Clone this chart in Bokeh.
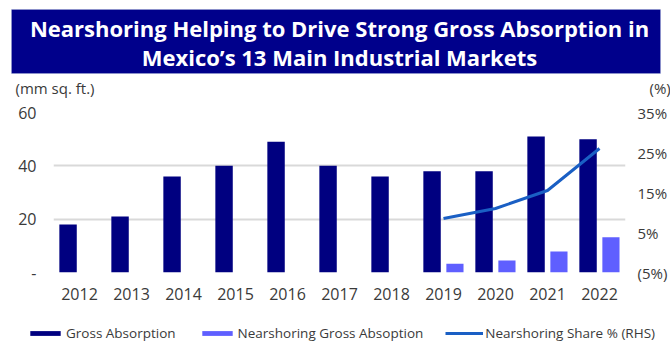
import numpy as np
from bokeh.plotting import figure
from bokeh.layouts import column
from bokeh.models import (ColumnDataSource, FactorRange, Range1d, LinearAxis, FixedTicker,
                          Legend, LegendItem, Label, BoxAnnotation)
from bokeh.transform import dodge
from bokeh.embed import file_html
from bokeh.resources import INLINE

# ---- data ----
years = ["2012", "2013", "2014", "2015", "2016", "2017", "2018", "2019", "2020", "2021", "2022"]
gross_absorption = [18, 21, 36, 40, 49, 40, 36, 38, 38, 51, 50]
nearshoring_gross = [None, None, None, None, None, None, None, 3.3, 4.5, 7.9, 13.2]
nearshoring_share = [None, None, None, None, None, None, None, 8.5, 11.0, 15.5, 26.0]
left_ticks = [0, 20, 40, 60]
left_tick_labels = {0: "-", 20: "20", 40: "40", 60: "60"}
right_ticks = [-5, 5, 15, 25, 35]
right_tick_labels = {-5: "(5%)", 5: "5%", 15: "15%", 25: "25%", 35: "35%"}
title_lines = ["Nearshoring Helping to Drive Strong Gross Absorption in",
               "Mexico\u2019s 13 Main Industrial Markets"]
series_names = ["Gross Absorption", "Nearshoring Gross Absoption", "Nearshoring Share % (RHS)"]

def arr(v):
    return np.array([np.nan if x is None else x for x in v], dtype=float)

src = ColumnDataSource(data=dict(
    year=years,
    gross=arr(gross_absorption),
    near=arr(nearshoring_gross),
    share=arr(nearshoring_share),
))

FONT = "Open Sans"
TXT = "#3a3a3a"
NAVY = "#000080"
LIGHT = "#5f5fff"
LINE = "#1a5fc4"
HEAD_H = 100

# ---- header figure (banner + unit labels) ----
top = figure(width=670, height=HEAD_H, x_range=Range1d(0, 670), y_range=Range1d(HEAD_H, 0),
             x_axis_type=None, y_axis_type=None, output_backend="svg", toolbar_location=None,
             min_border=0, frame_align=False)
top.title = None
top.outline_line_color = None
top.grid.visible = False
top.add_layout(BoxAnnotation(left=11, right=660, top=9, bottom=73,
                             fill_color="#00008b", fill_alpha=1,
                             line_color="#aab8d8", line_width=1))
for yy, t in zip([27, 56], title_lines):
    top.add_layout(Label(x=339, y=yy, text=t, text_align="center",
                         text_baseline="middle", text_font="Open Sans",
                         text_font_style="bold", text_font_size="22px", text_color="white"))
top.add_layout(Label(x=15, y=87, text="(mm sq. ft.)", text_align="left",
                     text_baseline="middle", text_font=FONT,
                     text_font_size="15px", text_color=TXT))
top.add_layout(Label(x=649, y=87, text="(%)", text_align="left",
                     text_baseline="middle", text_font=FONT,
                     text_font_size="15px", text_color=TXT))

# ---- main chart ----
p = figure(width=670, height=213, x_range=FactorRange(*years), y_range=Range1d(0, 60),
           output_backend="svg", toolbar_location=None, frame_align=False,
           min_border_left=53, min_border_right=43, min_border_top=12, min_border_bottom=41)
p.title = None
p.extra_y_ranges = {"pct": Range1d(-5, 35)}
p.outline_line_color = None
p.background_fill_color = "white"
p.border_fill_color = "white"

p.yaxis.ticker = FixedTicker(ticks=left_ticks)
p.yaxis.major_label_overrides = left_tick_labels
for ax in [p.xaxis[0], p.yaxis[0]]:
    ax.axis_line_color = None
    ax.major_tick_line_color = None
    ax.minor_tick_line_color = None
    ax.major_tick_out = 0
    ax.major_tick_in = 0
    ax.major_label_text_font = FONT
    ax.major_label_text_font_size = "16px"
    ax.major_label_text_color = TXT
p.yaxis.major_label_standoff = 17
p.xaxis.major_label_standoff = 15

rax = LinearAxis(y_range_name="pct", ticker=FixedTicker(ticks=right_ticks),
                 major_label_overrides=right_tick_labels)
rax.axis_line_color = None
rax.major_tick_line_color = None
rax.minor_tick_line_color = None
rax.major_tick_out = 0
rax.major_tick_in = 0
rax.major_label_text_font = FONT
rax.major_label_text_font_size = "15px"
rax.major_label_text_color = TXT
rax.major_label_standoff = 12
p.add_layout(rax, "right")

p.xgrid.grid_line_color = None
p.ygrid.ticker = FixedTicker(ticks=left_ticks)
p.ygrid.grid_line_color = "#d9d9d9"
p.ygrid.grid_line_width = 2

p.vbar(x=dodge("year", -0.22, range=p.x_range), top="gross", width=0.335,
       source=src, fill_color=NAVY, line_color=None)
p.vbar(x=dodge("year", 0.22, range=p.x_range), top="near", width=0.33,
       source=src, fill_color=LIGHT, line_color=None)
p.line(x="year", y="share", source=src, y_range_name="pct",
       line_color=LINE, line_width=3)

# ---- legend strip (swatch renderers placed outside the visible range) ----
leg = figure(width=670, height=30, x_range=Range1d(0, 1), y_range=Range1d(0, 1),
             x_axis_type=None, y_axis_type=None, output_backend="svg", toolbar_location=None,
             min_border=0, frame_align=False)
leg.title = None
leg.outline_line_color = None
leg.grid.visible = False
k1 = leg.vbar(x=[-5], top=[-5], width=0.1, fill_color=NAVY, line_color=None)
k2 = leg.vbar(x=[-5], top=[-5], width=0.1, fill_color=LIGHT, line_color=None)
k3 = leg.line(x=[-5, -4], y=[-5, -5], line_color=LINE, line_width=3)
legend = Legend(items=[LegendItem(label=series_names[0], renderers=[k1]),
                       LegendItem(label=series_names[1], renderers=[k2]),
                       LegendItem(label=series_names[2], renderers=[k3])],
                orientation="horizontal", location=(26, 1),
                glyph_width=38, glyph_height=6, label_standoff=2, spacing=22,
                padding=0, margin=0, border_line_color=None, background_fill_alpha=0,
                label_text_font=FONT, label_text_font_size="13.5px", label_text_color=TXT,
                label_height=16)
leg.add_layout(legend, "center")

layout = column(top, p, leg, spacing=0)
open("out.html", "w").write(file_html(layout, INLINE))
